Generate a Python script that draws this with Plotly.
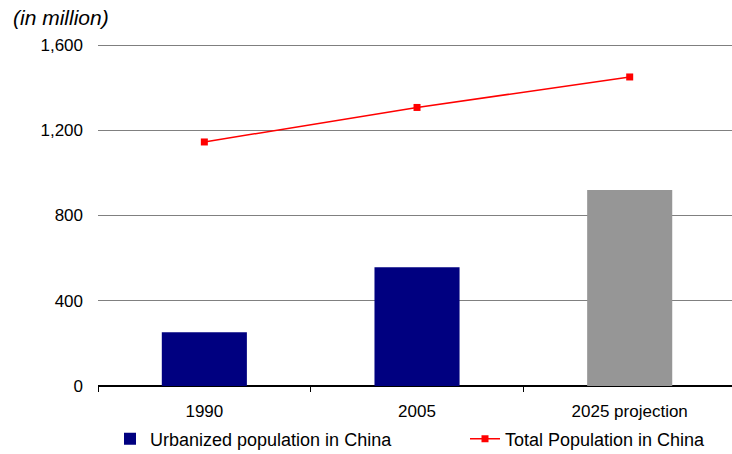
import plotly.graph_objects as go

# Categories and values (million people)
categories = ["1990", "2005", "2025 projection"]
urban_pop = [252, 557, 920]
total_pop = [1145, 1307, 1450]
bar_colors = ["#000080", "#000080", "#969696"]

y_ticks = [0, 400, 800, 1200, 1600]
y_tick_text = ["0", "400", "800", "1,200", "1,600"]
dark_grid = [800, 1600]

FONT = "Liberation Sans, Arial, sans-serif"
FS = 17
LEGEND_FS = 18

fig = go.Figure()

fig.add_trace(go.Bar(
    x=categories,
    y=urban_pop,
    name="Urbanized population in China",
    marker=dict(color=bar_colors, line=dict(width=0)),
    width=0.4,
    legend="legend",
))

fig.add_trace(go.Scatter(
    x=categories,
    y=total_pop,
    name="Total Population in China",
    mode="lines+markers",
    line=dict(color="#FF0000", width=1.5),
    marker=dict(symbol="square", size=7, color="#FF0000"),
    legend="legend2",
))

# darker horizontal rules at every other gridline
for v in dark_grid:
    fig.add_shape(type="line", xref="paper", x0=0, x1=1, yref="y", y0=v, y1=v,
                  line=dict(color="#000000", width=1), layer="below")

legend_common = dict(
    orientation="h",
    yref="container", y=15 / 454, yanchor="middle",
    xref="container", xanchor="left",
    font=dict(size=LEGEND_FS, family=FONT),
    bgcolor="rgba(0,0,0,0)",
)

fig.update_layout(
    width=732,
    height=454,
    margin=dict(l=98, r=0, t=45, b=68, autoexpand=False),
    paper_bgcolor="white",
    plot_bgcolor="white",
    font=dict(family=FONT, size=FS, color="#000000"),
    showlegend=True,
    legend=dict(legend_common, x=110 / 732),
    legend2=dict(legend_common, x=465 / 732),
    xaxis=dict(
        range=[-0.5, 2.481],
        showline=True,
        linecolor="#000000",
        linewidth=1,
        ticks="outside",
        tickson="boundaries",
        ticklen=5,
        tickcolor="#000000",
        showgrid=False,
        ticklabelstandoff=10,
        tickfont=dict(size=FS),
    ),
    yaxis=dict(
        range=[0, 1600],
        tickvals=y_ticks,
        ticktext=y_tick_text,
        showgrid=True,
        gridcolor="#808080",
        gridwidth=1,
        zeroline=True,
        zerolinecolor="#000000",
        showline=False,
        ticks="",
        ticklabelstandoff=14,
        tickfont=dict(size=FS),
    ),
    annotations=[dict(
        text="<i>(in million)</i>",
        xref="paper", yref="paper",
        x=0, y=1,
        xshift=-87, yshift=28,
        xanchor="left", yanchor="middle",
        showarrow=False,
        font=dict(size=21, family=FONT),
    )],
)

fig.write_html("out.html")
